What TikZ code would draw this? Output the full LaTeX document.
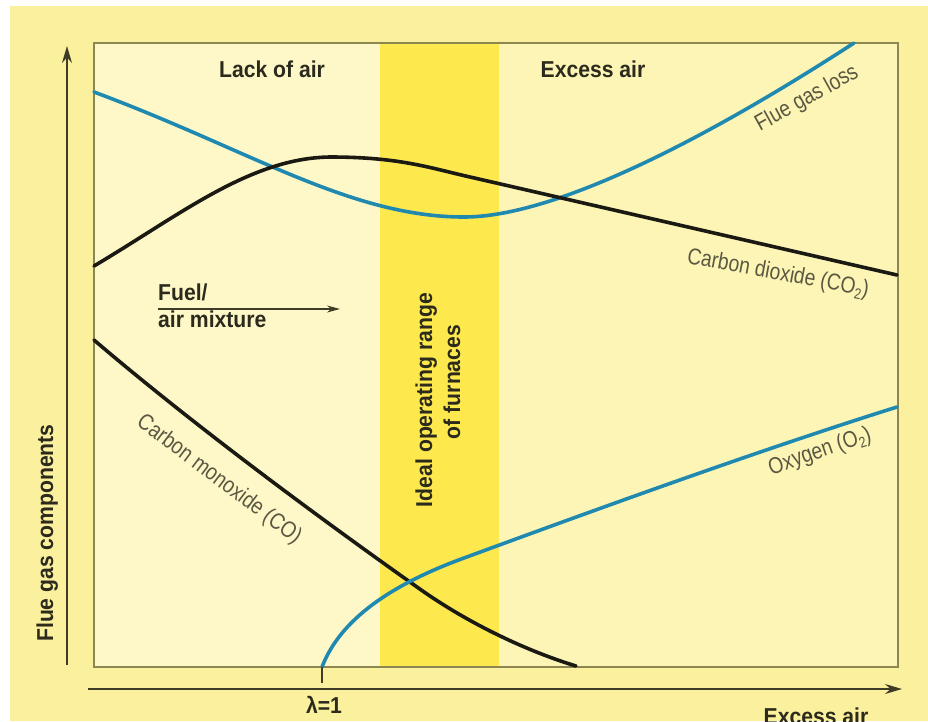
\documentclass[tikz,border=0pt]{standalone}
\usepackage{fontspec}
\newfontfamily\labfont[FakeStretch=0.84]{Liberation Sans}
\newfontfamily\boldfont[FakeStretch=0.92]{Liberation Sans}
\usetikzlibrary{arrows.meta}
\definecolor{outerbg}{HTML}{FBF09E}
\definecolor{plotleft}{HTML}{FEF8C8}
\definecolor{plotright}{HTML}{FDF5B6}
\definecolor{bandcol}{HTML}{FDE84E}
\definecolor{boxcol}{HTML}{8C8750}
\definecolor{axiscol}{HTML}{3E3B26}
\definecolor{txtcol}{HTML}{2B2A1C}
\definecolor{labcol}{HTML}{5A5842}
\definecolor{bluecurve}{HTML}{2089B0}
\definecolor{blackcurve}{HTML}{1A1A12}
\tikzset{
  boldlab/.style={font=\boldfont\bfseries\fontsize{23}{26}\selectfont, text=txtcol, inner sep=0pt},
  curvelab/.style={font=\labfont\fontsize{23}{26}\selectfont, text=labcol, inner sep=0pt},
  bcurve/.style={draw=blackcurve, line width=3.6pt, line cap=round},
  ccurve/.style={draw=bluecurve, line width=3.6pt, line cap=round},
  axisline/.style={draw=axiscol, line width=1.6pt, -{Stealth[length=17pt,width=10pt]}},
}
\newcommand{\subtwo}{\raisebox{-0.35ex}{\fontsize{15}{15}\selectfont 2}}
\begin{document}
\begin{tikzpicture}[x=1pt,y=-1pt]
\useasboundingbox (0,0) rectangle (928,721);
\fill[white] (0,0) rectangle (928,721);
\fill[outerbg] (10,6) rectangle (928,721);
\fill[plotleft] (94,43) rectangle (380,667);
\fill[plotright] (499,43) rectangle (898,667);
\fill[bandcol] (380,43) rectangle (499,667);
\draw[boxcol, line width=1.2pt] (94,43) rectangle (898,667);

% band labels
\node[boldlab, rotate=90, anchor=base] (ideal1) at (432,400) {Ideal operating range};
\node[boldlab, rotate=90, anchor=base] (ideal2) at (460,382) {of furnaces};

% curves
\draw[ccurve] (94,92) .. controls (250,150) and (350,217) .. (464,217)
  .. controls (560,217) and (720,130) .. (854,43);
\draw[bcurve] (94,266) .. controls (180,215) and (250,158) .. (330,157)
  .. controls (400,157) and (430,168) .. (470,177) -- (897,275);
\draw[bcurve] (94,340) .. controls (170,405) and (280,490) .. (417,587)
  .. controls (470,625) and (530,652) .. (576,666);
\draw[ccurve] (322,667) .. controls (340,620) and (390,585) .. (464,558)
  .. controls (600,508) and (760,450) .. (897,407);

% axes
\coordinate (ybot) at (67,665);
\coordinate (ytop) at (67,46);
\coordinate (xleft) at (88,689);
\coordinate (xright) at (902,689);
\draw[axisline] (ybot) -- (ytop);
\draw[axisline] (xleft) -- (xright);
\coordinate (tick1) at (322,667);
\coordinate (tick2) at (322,683);
\draw[axiscol, line width=1.6pt] (tick1) -- (tick2);

% texts
\node[boldlab, anchor=base] (lack) at (272,77) {Lack of air};
\node[boldlab, anchor=base] (excesstop) at (593,77) {Excess air};
\node[boldlab, anchor=base west] (fuel) at (158,300) {Fuel/};
\node[boldlab, anchor=base west] (mix) at (158,327) {air mixture};
\coordinate (fa1) at (158,309);
\coordinate (fa2) at (340,309);
\draw[axiscol, line width=1.3pt, -{Stealth[length=13pt,width=7pt]}] (fa1) -- (fa2);
\node[boldlab, anchor=base] (lambda) at (324,713) {λ=1};
\node[boldlab, anchor=base] (excessbot) at (816,724) {Excess air};
\node[boldlab, rotate=90, anchor=base] (ylab) at (53,533) {Flue gas components};

\node[curvelab, rotate=29] (lflue) at (807,99) {Flue gas loss};
\node[curvelab, rotate=-10.5] (lco2) at (778,274) {Carbon dioxide (CO\subtwo)};
\node[curvelab, rotate=-37] (lco) at (219,480) {Carbon monoxide (CO)};
\node[curvelab, rotate=19] (lo2) at (820,452) {Oxygen (O\subtwo)};
\end{tikzpicture}
\end{document}
